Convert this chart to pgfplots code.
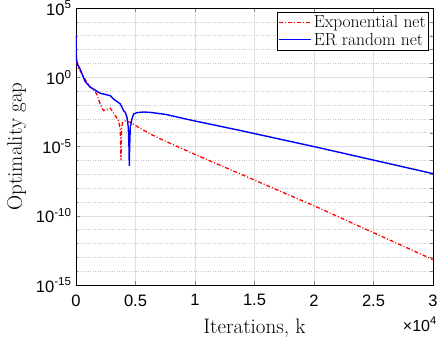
\documentclass[border=0pt]{standalone}
\usepackage{fontspec}
\usepackage{pgfplots}
\pgfplotsset{compat=1.18}
\newfontfamily\arial{Liberation Sans}

\begin{document}
\begin{tikzpicture}
\begin{axis}[
    width=357pt, height=277pt, scale only axis,
    ymode=log,
    xmin=0, xmax=30000, ymin=1e-15, ymax=1e5,
    xtick={0,5000,10000,15000,20000,25000,30000},
    xticklabels={0,0.5,1,1.5,2,2.5,3},
    scaled x ticks=false,
    minor x tick num=0,
    ytick={1e-15,1e-10,1e-5,1,1e5},
    yticklabels={10\textsuperscript{-15},10\textsuperscript{-10},10\textsuperscript{-5},10\textsuperscript{0},10\textsuperscript{5}},
    minor ytick={1e-14,1e-13,1e-12,1e-11,1e-9,1e-8,1e-7,1e-6,1e-4,1e-3,1e-2,1e-1,1e1,1e2,1e3,1e4},
    tick label style={font=\arial\fontsize{16.5}{17}\selectfont},
    xticklabel style={yshift=-6pt},
    yticklabel style={xshift=-1pt},
    label style={font=\fontsize{21}{22}\selectfont},
    xlabel={Iterations, k},
    ylabel={Optimality gap},
    xlabel style={yshift=-6pt},
    ylabel style={yshift=3pt},
    xmajorgrids=true, ymajorgrids=true, yminorgrids=true, xminorgrids=false,
    major grid style={gray!25, line width=0.5pt},
    minor grid style={gray!45, dotted, line width=0.5pt},
    tick align=inside,
    major tick length=4pt, minor tick length=2.5pt,
    axis line style={line width=0.6pt},
    legend style={at={(1,1)}, anchor=north east, xshift=-4pt, yshift=-4pt,
        font=\fontsize{17.5}{18}\selectfont, draw=black, line width=0.5pt,
        inner xsep=1pt, inner ysep=1.5pt, row sep=-0.5pt,
        cells={anchor=west}},
    legend image code/.code={\draw[#1] (0pt,0pt) -- (32pt,0pt);},
]

\addplot[red, line width=1.3pt, dash pattern=on 4pt off 2pt on 1pt off 2pt] coordinates {
    (0, 1.1e3) (30, 2e1) (150, 5) (338, 3) (760, 0.74) (1183, 0.19)
    (1462, 0.14) (1750, 0.06) (2028, 1.2e-2) (2307, 3.9e-3) (2590, 4.5e-3)
    (2873, 5.8e-3) (3100, 3.2e-3) (3296, 1.7e-3) (3550, 8e-4) (3718, 2e-4)
    (3780, 1e-6) (3830, 2e-4) (3900, 5e-4) (4000, 6.5e-4) (4140, 7e-4)
    (4563, 5.6e-4) (5408, 2e-4) (6253, 8e-5) (7099, 3.5e-5) (9913, 2.9e-6)
    (13859, 1e-7) (20280, 4.1e-10) (30000, 6.8e-14)
};

\addplot[blue, line width=1.4pt] coordinates {
    (0, 1.1e3) (30, 2e1) (150, 8) (338, 4) (760, 0.5) (1183, 0.2)
    (1462, 0.14) (2028, 0.07) (2873, 0.047) (3152, 0.027) (3718, 0.012)
    (4000, 3.9e-3) (4140, 2.9e-3) (4284, 1.3e-3) (4394, 2.5e-4) (4450, 1e-5)
    (4479, 4e-7) (4510, 1e-5) (4563, 2.5e-4) (4707, 1e-3) (4842, 2.2e-3)
    (5129, 2.8e-3) (5700, 3.1e-3) (6253, 2.9e-3) (7500, 2.1e-3) (9913, 7.2e-4)
    (13859, 1.4e-4) (20280, 8.7e-6) (30000, 1.1e-7)
};

\legend{Exponential net, ER random net}
\end{axis}
\node[anchor=north east, font=\arial\fontsize{16}{17}\selectfont, inner sep=0pt]
    at (361pt,-32pt) {×10\textsuperscript{4}};
\pgfresetboundingbox
\path[use as bounding box] (-76pt,-53pt) rectangle (364pt,285pt);
\end{tikzpicture}
\end{document}
